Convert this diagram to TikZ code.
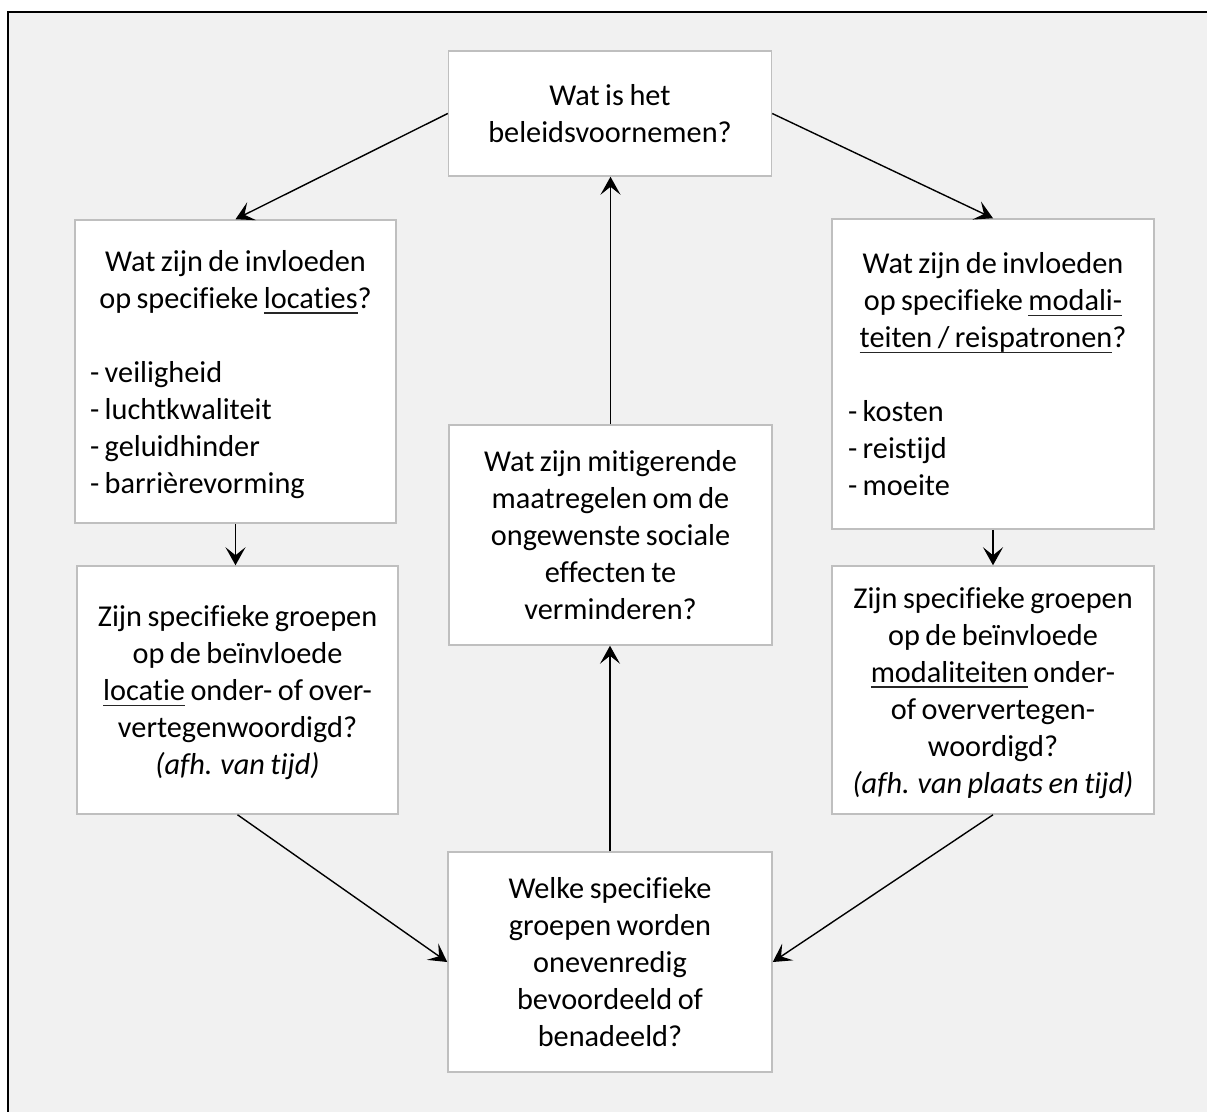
\documentclass[tikz,border=0pt]{standalone}
\usepackage{fontspec}
\setmainfont{Carlito}[RawFeature=-liga, WordSpace=0.8]
\usetikzlibrary{arrows.meta}
\definecolor{bg}{HTML}{F1F1F1}
\definecolor{boxline}{HTML}{BFBFBF}
\setlength{\parindent}{0pt}
\newcommand\myul[1]{\leavevmode\setbox0\hbox{#1}\rlap{\color{black!85}\rule[-5.5pt]{\wd0}{1.5pt}}\box0\relax}
\newcommand\li[2]{\makebox[#1][l]{#2}}
\newcommand\tb[1]{\raisebox{-3.5pt}[\height][\depth]{\begin{tabular}{@{}c@{}}#1\end{tabular}}}
\begin{document}
\begin{tikzpicture}[x=1pt,y=-1pt,
  qbox/.style={draw=boxline, line width=1.5pt, fill=white, inner sep=0pt,
    font=\fontsize{30.3}{37}\selectfont},
  conn/.style={line width=1.4pt, draw=black,
    -{Stealth[length=18pt,width=20pt,inset=8pt]}}]
\useasboundingbox (0,0) rectangle (1207,1111);
\fill[white] (0,0) rectangle (1207,1111);
\clip (0,0) rectangle (1207,1111);
\draw[fill=bg, line width=2.5pt] (8,12) rectangle (1240,1140);

\node[qbox, minimum width=323pt, minimum height=125pt] (top) at (610,113.5)
  {\tb{Wat is het\\beleidsvoornemen?}};

\node[qbox, minimum width=321pt, minimum height=303pt] (lb1) at (235.5,371.5)
  {\tb{Wat zijn de invloeden\\
   op specifieke \myul{locaties}?\\[37pt]
   \li{291pt}{- veiligheid}\\
   \li{291pt}{- luchtkwaliteit}\\
   \li{291pt}{- geluidhinder}\\
   \li{291pt}{- barrièrevorming}}};

\node[qbox, minimum width=322pt, minimum height=310pt] (rb1) at (993,374)
  {\tb{Wat zijn de invloeden\\
   op specifieke \myul{modali-}\\
   \myul{teiten / reispatronen}?\\[37pt]
   \li{290pt}{- kosten}\\
   \li{290pt}{- reistijd}\\
   \li{290pt}{- moeite}}};

\node[qbox, minimum width=321pt, minimum height=248pt] (lb2) at (237.5,690)
  {\tb{Zijn specifieke groepen\\
   op de beïnvloede\\
   \myul{locatie} onder- of over-\\
   vertegenwoordigd?\\
   \textit{(afh. van tijd)}}};

\node[qbox, minimum width=322pt, minimum height=248pt] (rb2) at (993,690)
  {\tb{Zijn specifieke groepen\\
   op de beïnvloede\\
   \myul{modaliteiten} onder-\\
   of oververtegen-\\
   woordigd?\\
   \textit{(afh. van plaats en tijd)}}};

\node[qbox, minimum width=323pt, minimum height=220pt] (mid) at (610.5,535)
  {\tb{Wat zijn mitigerende\\
   maatregelen om de\\
   ongewenste sociale\\
   effecten te\\
   verminderen?}};

\node[qbox, minimum width=324pt, minimum height=220pt] (bot) at (610,962)
  {\tb{Welke specifieke\\
   groepen worden\\
   onevenredig\\
   bevoordeeld of\\
   benadeeld?}};

\draw[conn] (top.west) -- (lb1.north);
\draw[conn] (top.east) -- (rb1.north);
\draw[conn] (lb1.south) -- (lb1.south |- lb2.north);
\draw[conn] (rb1.south) -- (rb1.south |- rb2.north);
\draw[conn] (lb2.south) -- (bot.west);
\draw[conn] (rb2.south) -- (bot.east);
\draw[conn] (bot.north) -- (bot.north |- mid.south);
\draw[conn] (mid.north) -- (mid.north |- top.south);
\end{tikzpicture}
\end{document}
